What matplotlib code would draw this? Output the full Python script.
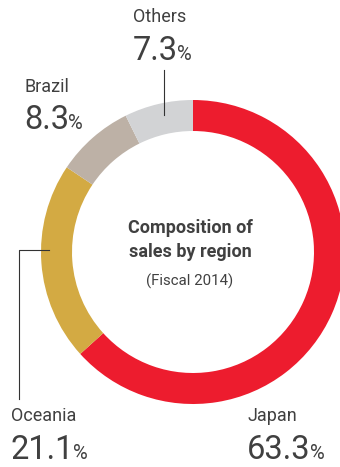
import matplotlib
matplotlib.use("Agg")
import matplotlib.pyplot as plt

regions = ["Japan", "Oceania", "Brazil", "Others"]
shares = [63.3, 21.1, 8.3, 7.3]
colors = ["#ED1C2E", "#D3AA43", "#BDB1A6", "#D2D3D5"]

txt = "#404040"
plt.rcParams['font.family'] = ['Roboto', 'DejaVu Sans']

fig = plt.figure(figsize=(3.4, 4.67), dpi=100)
ax = fig.add_axes([0, 0, 1, 1])

# ring
ax.pie(shares, colors=colors, center=(193, 252), radius=152,
       startangle=-90, counterclock=True,
       wedgeprops=dict(width=31, linewidth=0), frame=True)
ax.set_xlim(0, 340)
ax.set_ylim(467, 0)
ax.axis('off')

# leader lines
ax.plot([164, 164], [70, 115], color="#333333", lw=0.8)
ax.plot([49, 19, 19], [250, 250, 399], color="#333333", lw=0.8)

# labels: x, y of name baseline, y of value baseline
label_pos = {
    "Others": (133, 22, 60),
    "Brazil": (24, 92, 129),
    "Oceania": (11, 421, 459),
    "Japan": (247, 421, 459),
}
fig.canvas.draw()
r = fig.canvas.get_renderer()
for name, val in zip(regions, shares):
    x, yn, yv = label_pos[name]
    ax.text(x, yn, name, fontsize=13, color=txt, va='baseline', ha='left')
    t = ax.text(x, yv, f"{val:.1f}", fontsize=23.5, color=txt,
                va='baseline', ha='left')
    bb = t.get_window_extent(renderer=r)
    x2 = ax.transData.inverted().transform((bb.x1, bb.y0))[0]
    ax.text(x2 - 1, yv, "%", fontsize=14.5, color=txt, va='baseline', ha='left')

# centre title
ax.text(190, 233, "Composition of", fontsize=13, fontweight='bold', color=txt,
        ha='center', va='baseline')
ax.text(190, 257, "sales by region", fontsize=13, fontweight='bold', color=txt,
        ha='center', va='baseline')
ax.text(190, 286, "(Fiscal 2014)", fontsize=10.8, color=txt,
        ha='center', va='baseline')

fig.savefig("out.png", dpi=100)
